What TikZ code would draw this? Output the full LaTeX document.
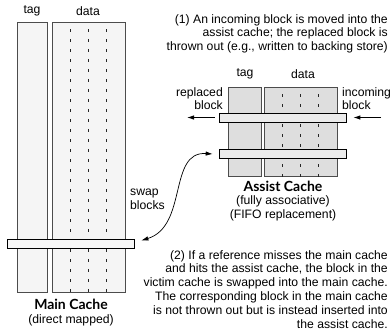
\documentclass[tikz,border=0pt]{standalone}
\usepackage{fontspec}
\setmainfont{Liberation Sans}
\newfontfamily\titlefont{Lato}
\usetikzlibrary{arrows.meta}

\begin{document}
\begin{tikzpicture}[
    x=1pt, y=-1pt,
    every node/.style={inner sep=0pt, font=\fontsize{12.2}{13.9}\selectfont},
    mainbox/.style={draw=black!70, fill=black!4, line width=0.6pt, anchor=north west},
    assistbox/.style={draw=black!70, fill=black!13, line width=0.6pt, anchor=north west},
    cacherow/.style={draw=black, line width=0.7pt, minimum width=127pt, minimum height=9pt},
    divider/.style={black!85, line width=0.5pt, dash pattern=on 3pt off 7pt, dash phase=-7pt},
    title/.style={font=\titlefont\bfseries\fontsize{14}{14}\selectfont},
    arrow/.style={-{Latex[length=7pt, width=4.5pt]}, line width=0.9pt}
  ]
  \useasboundingbox (0,0) rectangle (391,330);

  % main cache
  \node[mainbox, minimum width=30pt, minimum height=270pt] (mtag) at (17,22) {};
  \node[mainbox, minimum width=73pt, minimum height=270pt] (mdata) at (52,22) {};
  \foreach \x in {18,36,54}
    \draw[divider] ([xshift=\x pt]mdata.north west) -- ([xshift=\x pt]mdata.south west);
  \node[cacherow, fill=black!3] (mrow) at (70.5,243.5) {};
  \node (mtaglabel) at (32,11) {tag};
  \node (mdatalabel) at (88,11) {data};
  \node[title] (mtitle) at (71,304) {Main Cache};
  \node (mnote) at (71,320) {(direct mapped)};

  % assist cache
  \node[assistbox, minimum width=33pt, minimum height=89pt] (atag) at (228,87) {};
  \node[assistbox, minimum width=73pt, minimum height=89pt] (adata) at (264,87) {};
  \foreach \x in {18,36,54}
    \draw[divider] ([xshift=\x pt]adata.north west) -- ([xshift=\x pt]adata.south west);
  \node[cacherow, fill=black!8] (arow1) at (282.5,117.5) {};
  \node[cacherow, fill=black!8] (arow2) at (282.5,154) {};
  \node (ataglabel) at (245,74) {tag};
  \node (adatalabel) at (303,74) {data};
  \node[title] (atitle) at (283,186) {Assist Cache};
  \node[align=center] (anote) at (283,208.5) {(fully associative)\\(FIFO replacement)};

  % block movement
  \node[align=right, anchor=north east] (replaced) at (223,87) {replaced\\block};
  \node[align=left, anchor=north west] (incoming) at (342,87) {incoming\\block};
  \coordinate (outend) at (187,117.5);
  \coordinate (instart) at (381,117.5);
  \draw[arrow] ([xshift=-4pt]arow1.west) -- (outend);
  \draw[arrow] (instart) -- ([xshift=7pt]arow1.east);

  \node[align=left, anchor=north west] (swap) at (130,189) {swap\\blocks};
  \draw[{Latex[length=7pt, width=4.5pt]}-{Latex[length=7pt, width=4.5pt]}, line width=0.7pt]
    ([xshift=7pt, yshift=3pt]mrow.east) .. controls (188,226) and (168,151) .. ([xshift=-6pt]arow2.west);

  % notes
  \node[align=right, anchor=north east] (note1) at (388,14)
    {(1) An incoming block is moved into the\\assist cache; the replaced block is\\thrown out (e.g., written to backing store)};
  \node[align=right, anchor=north east] (note2) at (388,250)
    {(2) If a reference misses the main cache\\and hits the assist cache, the block in the\\victim cache is swapped into the main cache.\\The corresponding block in the main cache\\is not thrown out but is instead inserted into\\the assist cache.};
\end{tikzpicture}
\end{document}
